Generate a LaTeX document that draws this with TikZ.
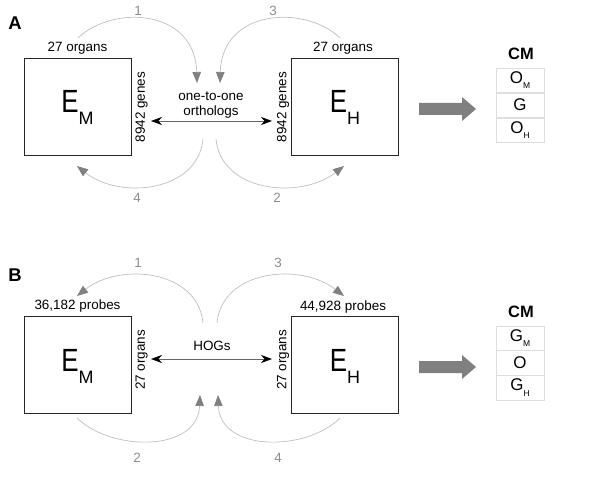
\documentclass[tikz,border=0pt]{standalone}
\usepackage{fontspec}
\setmainfont{Liberation Sans}
\usetikzlibrary{arrows.meta,positioning}
\newcommand{\bigsub}[2]{{\fontsize{26}{26}\selectfont\scalebox{1}[1.24]{#1}}\raisebox{-12bp}{\fontsize{18}{18}\selectfont #2}}
\newcommand{\smallsub}[2]{{\fontsize{17}{17}\selectfont #1}\raisebox{-5.7bp}{\fontsize{8.5}{8.5}\selectfont #2}}
\begin{document}
\begin{tikzpicture}[x=1bp,y=-1bp,
  matbox/.style={draw=black!85, line width=0.9bp, minimum width=107bp, minimum height=97bp, inner sep=0},
  elabel/.style={anchor=base, yshift=-6.5bp, inner sep=0},
  lbl/.style={font=\fontsize{13.5}{15}\selectfont, inner sep=0},
  rlbl/.style={lbl, rotate=90},
  num/.style={font=\fontsize{13.5}{15}\selectfont, text=black!45, inner sep=0},
  panel/.style={font=\fontsize{18.5}{20}\selectfont\bfseries, inner sep=0},
  flow/.style={draw=black!25, line width=0.7bp, -{Triangle[length=11bp,width=8.5bp,color=black!50]}},
  twoway/.style={draw=black!60, line width=0.6bp, {Stealth[length=11bp,width=8bp,color=black]}-{Stealth[length=11bp,width=8bp,color=black]}},
  cell/.style={draw=black!13, line width=0.6bp, minimum width=48bp, minimum height=24.3bp, inner sep=0},
  cmlabel/.style={font=\fontsize{16.5}{18}\selectfont\bfseries, inner sep=0},
  bigarrow/.style={fill=black!50, draw=none}
]
\useasboundingbox (0,0) rectangle (600,485);

% ================= Panel A =================
\node[panel] (pA) at (15,23) {A};
\node[matbox] (EMa) at (77.5,106.5) {};
\node[elabel] (EMat) at (EMa) {\bigsub{E}{M}};
\node[matbox] (EHa) at (345,106.5) {};
\node[elabel] (EHat) at (EHa) {\bigsub{E}{H}};
\node[lbl] (oMa) at (77.5,48) {27 organs};
\node[lbl] (oHa) at (343,48) {27 organs};
\node[rlbl] (gMa) at (141.5,107) {8942 genes};
\node[rlbl] (gHa) at (283,107) {8942 genes};
\node[lbl, align=center] (orth) at (211,105) {one-to-one\\orthologs};
\coordinate (dA1) at (151,121);
\coordinate (dA2) at (272,121);
\draw[twoway] (dA1) -- (dA2);

\coordinate (a1s) at (78,38);  \coordinate (a1e) at (197,83);
\coordinate (a3s) at (340,38); \coordinate (a3e) at (220,83);
\coordinate (a4s) at (203,139); \coordinate (a4e) at (77,166);
\coordinate (a2s) at (216,139); \coordinate (a2e) at (344,166);
\draw[flow] (a1s) .. controls (112,5) and (195,8) .. (a1e);
\draw[flow] (a3s) .. controls (306,5) and (222,8) .. (a3e);
\draw[flow] (a4s) .. controls (198,192) and (120,200) .. (a4e);
\draw[flow] (a2s) .. controls (221,192) and (300,200) .. (a2e);
\node[num] (nA1) at (138,11) {1};
\node[num] (nA3) at (273,11) {3};
\node[num] (nA4) at (137,198) {4};
\node[num] (nA2) at (277,198) {2};

\fill[bigarrow] (419,103) -- (462,103) -- (462,97) -- (476,109) -- (462,121) -- (462,115) -- (419,115) -- cycle;
\node[cmlabel] (cmA) at (521,54) {CM};
\node[cell] (cA1) at (520,80.2) {\smallsub{O}{M}};
\node[cell, below=0pt of cA1] (cA2) {\fontsize{17}{17}\selectfont G};
\node[cell, below=0pt of cA2] (cA3) {\smallsub{O}{H}};

% ================= Panel B =================
\node[panel] (pB) at (15,275) {B};
\node[matbox] (EMb) at (77.5,364.5) {};
\node[elabel] (EMbt) at (EMb) {\bigsub{E}{M}};
\node[matbox] (EHb) at (345,364.5) {};
\node[elabel] (EHbt) at (EHb) {\bigsub{E}{H}};
\node[lbl] (pMb) at (77.5,306) {36,182 probes};
\node[lbl] (pHb) at (343,307) {44,928 probes};
\node[rlbl] (oMb) at (141.5,360) {27 organs};
\node[rlbl] (oHb) at (283,360) {27 organs};
\node[lbl] (hogs) at (212,346) {HOGs};
\coordinate (dB1) at (151,359);
\coordinate (dB2) at (272,359);
\draw[twoway] (dB1) -- (dB2);

\coordinate (b1s) at (203,323); \coordinate (b1e) at (77,296);
\coordinate (b3s) at (217,323); \coordinate (b3e) at (344,296);
\coordinate (b2s) at (77,418);  \coordinate (b2e) at (200,395);
\coordinate (b4s) at (340,418); \coordinate (b4e) at (218,395);
\draw[flow] (b1s) .. controls (198,270) and (120,262) .. (b1e);
\draw[flow] (b3s) .. controls (222,270) and (300,262) .. (b3e);
\draw[flow] (b2s) .. controls (112,452) and (198,452) .. (b2e);
\draw[flow] (b4s) .. controls (306,452) and (220,452) .. (b4e);
\node[num] (nB1) at (138,263) {1};
\node[num] (nB3) at (278,263) {3};
\node[num] (nB2) at (137,458) {2};
\node[num] (nB4) at (278,458) {4};

\fill[bigarrow] (419,361) -- (462,361) -- (462,355) -- (476,367) -- (462,379) -- (462,373) -- (419,373) -- cycle;
\node[cmlabel] (cmB) at (521,312) {CM};
\node[cell] (cB1) at (520,338) {\smallsub{G}{M}};
\node[cell, below=0pt of cB1] (cB2) {\fontsize{17}{17}\selectfont O};
\node[cell, below=0pt of cB2] (cB3) {\smallsub{G}{H}};
\end{tikzpicture}
\end{document}
